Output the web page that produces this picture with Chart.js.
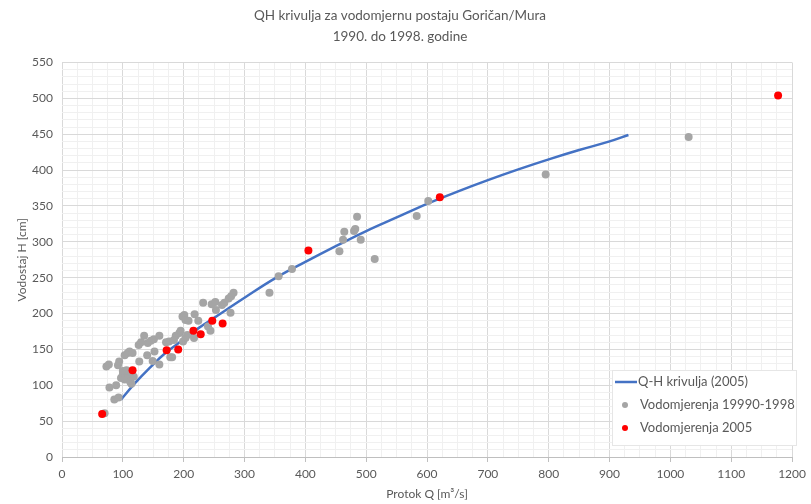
<!DOCTYPE html>
<html>
<head>
<meta charset="utf-8">
<script src="https://cdn.jsdelivr.net/npm/chart.js@4.4.1/dist/chart.umd.min.js"></script>
<style>
    html, body { margin: 0; padding: 0; background: #ffffff; }
    #wrap { width: 811px; height: 504px; }
</style>
</head>
<body>
<div id="wrap"><canvas id="qhChart" width="811" height="504"></canvas></div>
<script>
// Q-H krivulja (2005) - procitano sa slike
const curveQ = [97, 120, 145, 170, 200, 225, 250, 300, 350, 400, 450, 500, 550, 600, 650, 700, 750, 800, 850, 900, 931];
const curveH = [80, 103, 125, 145, 164, 180, 194, 222, 249, 272, 294, 315, 334, 353, 370, 386, 401, 415, 428, 440, 449];

// Vodomjerenja 19990-1998
const grayQ = [70, 86, 93, 78, 89, 114, 73, 77, 92, 94, 97, 100, 103, 106, 109, 112, 100, 106, 114, 118,
    103, 108, 111, 116, 127, 126, 130, 135, 141, 146, 151, 160, 140, 152, 149, 160, 171, 176, 178, 181,
    187, 193, 195, 184, 198, 201, 203, 208, 199, 203, 206, 218, 217, 224, 232, 240, 244, 246, 252, 253,
    263, 267, 274, 278, 282, 277, 341, 356, 378, 456, 462, 464, 480, 482, 485, 491, 514, 583, 602, 795, 1030];
const grayH = [61, 80, 83, 97, 100, 102, 126, 129, 128, 133, 110, 115, 108, 118, 113, 105, 120, 121, 118, 112,
    142, 145, 147, 145, 133, 156, 160, 169, 159, 162, 164, 169, 142, 147, 134, 129, 160, 161, 139, 139,
    169, 173, 176, 163, 196, 198, 191, 190, 161, 166, 170, 199, 166, 190, 215, 182, 176, 213, 216, 205,
    212, 215, 221, 224, 229, 201, 229, 252, 262, 287, 303, 314, 315, 318, 335, 303, 276, 336, 357, 394, 446];

// Vodomjerenja 2005
const redQ = [66, 116, 172, 191, 216, 228, 247, 264, 405, 621, 1177];
const redH = [60, 121, 149, 150, 176, 171, 190, 186, 288, 362, 504];

const titleLines = ['QH krivulja za vodomjernu postaju Goričan/Mura', '1990. do 1998. godine'];
const xTitle = 'Protok Q [m³/s]';
const yTitle = 'Vodostaj H [cm]';

const textColor = '#595959';
const fontName = 'Lato, "Open Sans", sans-serif';

function toPoints(xs, ys) {
    return xs.map((x, i) => ({ x: x, y: ys[i] }));
}

// legenda unutar grafa (kao u Excelu)
const insideLegend = {
    id: 'insideLegend',
    afterDraw(chart) {
        const ctx = chart.ctx;
        const ds = chart.data.datasets;
        const left = 612, top = 370, w = 184, h = 75;
        ctx.save();
        ctx.fillStyle = '#ffffff';
        ctx.fillRect(left, top, w, h);
        ctx.strokeStyle = '#e6e6e6';
        ctx.lineWidth = 1;
        ctx.strokeRect(left + 0.5, top + 0.5, w, h);
        ctx.font = '13px ' + fontName;
        ctx.textBaseline = 'middle';
        ds.forEach((d, i) => {
            const y = top + 12 + i * 23;
            if (d.showLine) {
                ctx.strokeStyle = d.borderColor;
                ctx.lineWidth = 2.5;
                ctx.beginPath();
                ctx.moveTo(left + 3, y);
                ctx.lineTo(left + 25, y);
                ctx.stroke();
            } else {
                ctx.fillStyle = d.backgroundColor;
                ctx.beginPath();
                ctx.arc(left + 13, y, 3, 0, Math.PI * 2);
                ctx.fill();
            }
            ctx.fillStyle = textColor;
            ctx.fillText(d.label, left + (d.showLine ? 26 : 28), y);
        });
        ctx.restore();
    }
};

new Chart(document.getElementById('qhChart'), {
    type: 'scatter',
    data: {
        datasets: [{
            label: 'Q-H krivulja (2005)',
            data: toPoints(curveQ, curveH),
            showLine: true,
            borderColor: '#4472C4',
            backgroundColor: '#4472C4',
            borderWidth: 2.5,
            pointRadius: 0,
            tension: 0.4,
            order: 3
        }, {
            label: 'Vodomjerenja 19990-1998',
            data: toPoints(grayQ, grayH),
            backgroundColor: '#A5A5A5',
            borderColor: '#A5A5A5',
            pointRadius: 4,
            borderWidth: 0,
            order: 2
        }, {
            label: 'Vodomjerenja 2005',
            data: toPoints(redQ, redH),
            backgroundColor: '#FF0000',
            borderColor: '#FF0000',
            pointRadius: 4,
            borderWidth: 0,
            order: 1
        }]
    },
    options: {
        responsive: false,
        animation: false,
        devicePixelRatio: 1,
        layout: { padding: { left: 0, right: 11, top: 0, bottom: 0 } },
        plugins: {
            legend: { display: false },
            tooltip: { enabled: false },
            title: {
                display: true,
                text: titleLines,
                color: textColor,
                font: { family: fontName, size: 13.5, weight: 'normal', lineHeight: 1.5 },
                padding: { top: 6, bottom: 16 }
            }
        },
        scales: {
            x: {
                type: 'linear',
                min: 0,
                max: 1200,
                afterFit: function (scale) { scale.height = 47; },
                ticks: {
                    stepSize: 25,
                    autoSkip: false,
                    maxRotation: 0,
                    padding: 5,
                    color: textColor,
                    font: { family: fontName, size: 12 },
                    callback: v => (v % 100 === 0 ? v : '')
                },
                grid: {
                    color: c => (c.tick && c.tick.value % 100 === 0 ? '#d9d9d9' : '#f0f0f0'),
                    tickColor: c => (c.tick && c.tick.value % 100 === 0 ? '#bfbfbf' : 'rgba(0,0,0,0)'),
                    tickLength: 5
                },
                border: { color: '#bfbfbf' },
                title: {
                    display: true,
                    text: xTitle,
                    color: textColor,
                    font: { family: fontName, size: 12 },
                    padding: { top: 0, bottom: 3 }
                }
            },
            y: {
                type: 'linear',
                min: 0,
                max: 550,
                afterFit: function (scale) { scale.width = 62; },
                ticks: {
                    stepSize: 10,
                    autoSkip: false,
                    padding: 4,
                    color: textColor,
                    font: { family: fontName, size: 12 },
                    callback: v => (v % 50 === 0 ? v : '')
                },
                grid: {
                    color: c => (c.tick && c.tick.value % 50 === 0 ? '#d9d9d9' : '#f0f0f0'),
                    tickColor: 'rgba(0,0,0,0)',
                    tickLength: 5
                },
                border: { display: false },
                title: {
                    display: true,
                    text: yTitle,
                    color: textColor,
                    font: { family: fontName, size: 12 },
                    padding: { top: 15, bottom: 0 }
                }
            }
        }
    },
    plugins: [insideLegend]
});
</script>
</body>
</html>
